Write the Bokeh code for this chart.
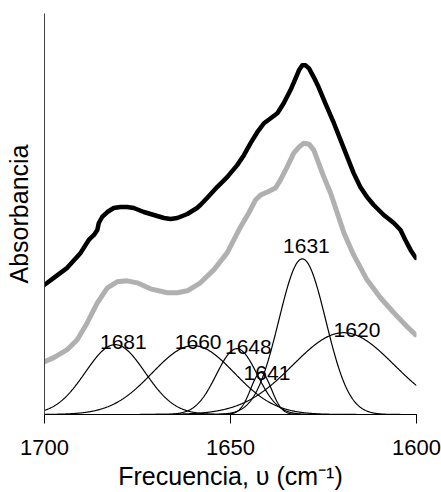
import numpy as np
from bokeh.plotting import figure
from bokeh.models import Range1d, FixedTicker
from bokeh.embed import file_html
from bokeh.resources import INLINE
from bokeh.core.properties import value

# ---- data (frequency in cm-1, absorbance in arbitrary units) ----
freq_measured = [1700.0, 1697.5, 1693.9, 1690.3, 1688.1, 1686.7, 1685.8, 1685.4, 1684.5,
                 1683.1, 1681.4, 1679.6, 1677.8, 1676.0, 1673.3, 1670.6, 1667.9, 1666.1,
                 1664.3, 1661.6, 1659.0, 1658.1, 1656.3, 1653.6, 1650.9, 1648.2, 1646.4,
                 1644.6, 1642.8, 1641.0, 1639.2, 1637.4, 1635.7, 1633.9, 1632.5, 1631.6,
                 1630.7, 1629.8, 1628.9, 1627.6, 1626.3, 1624.5, 1622.2, 1620.4, 1618.6,
                 1616.9, 1615.1, 1613.3, 1611.5, 1608.8, 1606.1, 1604.3, 1603.0, 1601.6,
                 1600.2]
abs_measured = [130, 137, 147, 162, 175, 180, 185, 192, 198,
                203, 207, 208, 208, 207, 203, 200, 197, 196,
                197, 201, 207, 210, 217, 228, 238, 250, 260,
                272, 283, 292, 297, 302, 312, 325, 337, 345,
                350, 350, 347, 338, 328, 312, 292, 275, 258,
                242, 228, 218, 210, 200, 192, 185, 175, 165,
                157]

freq_fit = [1700.0, 1697.5, 1693.9, 1691.2, 1688.5, 1685.8, 1683.1, 1680.5, 1677.8,
            1675.1, 1671.5, 1667.0, 1664.3, 1661.6, 1658.1, 1654.5, 1650.9, 1647.3,
            1645.1, 1643.3, 1641.9, 1640.1, 1637.9, 1636.6, 1634.8, 1633.0, 1631.6,
            1630.3, 1628.9, 1627.6, 1626.3, 1624.9, 1623.1, 1621.3, 1619.5, 1616.9,
            1613.3, 1609.7, 1606.1, 1602.5, 1600.3]
abs_fit = [53, 57, 65, 75, 92, 112, 127, 133, 134,
           132, 126, 122, 122, 124, 132, 145, 162, 188,
           202, 215, 220, 223, 227, 235, 248, 262, 268,
           272, 271, 265, 252, 238, 222, 202, 182, 160,
           135, 117, 102, 88, 80]

peak_names = ["1681", "1660", "1648", "1641", "1631", "1620"]
peak_centers = [1681.0, 1660.0, 1648.3, 1641.8, 1630.7, 1619.6]
peak_heights = [70, 69, 66, 42, 156, 82]
peak_sigmas = [8.0, 11.0, 5.5, 2.8, 6.3, 13.6]

label_x = [1678.8, 1658.7, 1645.2, 1640.2, 1629.6, 1616.0]
label_y = [73, 73, 68, 42, 169, 85]

x_ticks = [1700, 1650, 1600]
x_title = "Frecuencia, υ (cm⁻¹)"
y_title = "Absorbancia"

FONT = "Liberation Sans"

p = figure(width=441, height=492, output_backend="svg", toolbar_location=None,
           x_range=Range1d(1700, 1600), y_range=Range1d(0, 402),
           min_border_left=44, min_border_right=25, min_border_top=13, min_border_bottom=77)
p.outline_line_color = None
p.xgrid.visible = False
p.ygrid.visible = False
p.background_fill_color = "white"
p.border_fill_color = "white"

# Gaussian components
grid = np.linspace(1700, 1600, 801)
for c, h, s in zip(peak_centers, peak_heights, peak_sigmas):
    p.line(grid, h * np.exp(-((grid - c) ** 2) / (2 * s * s)), line_color="black", line_width=1.2)

# fitted sum (gray) and measured spectrum (black)
p.line(freq_fit, abs_fit, line_color="#b0b0b0", line_width=5, line_join="round", line_cap="round")
p.line(freq_measured, abs_measured, line_color="black", line_width=4.5, line_join="round", line_cap="round")

# peak labels
p.text(x=label_x, y=label_y, text=peak_names, text_align="center", text_baseline="alphabetic",
       text_font=value(FONT), text_font_size="21px", text_color="black")

# axes
xa = p.xaxis[0]
xa.ticker = FixedTicker(ticks=x_ticks, minor_ticks=[])
xa.major_tick_in = 0
xa.major_tick_out = 9
xa.major_tick_line_color = "black"
xa.axis_line_color = "black"
xa.major_label_text_font = FONT
xa.major_label_text_font_size = "22px"
xa.major_label_text_color = "black"
xa.major_label_standoff = 16
xa.axis_label = x_title
xa.axis_label_text_font = FONT
xa.axis_label_text_font_size = "25px"
xa.axis_label_text_font_style = "normal"
xa.axis_label_text_color = "black"
xa.axis_label_standoff = 4

ya = p.yaxis[0]
ya.ticker = FixedTicker(ticks=[], minor_ticks=[])
ya.major_tick_in = 0
ya.major_tick_out = 0
ya.minor_tick_in = 0
ya.minor_tick_out = 0
ya.axis_line_color = "#404040"
ya.axis_label = y_title
ya.axis_label_text_font = FONT
ya.axis_label_text_font_size = "25px"
ya.axis_label_text_font_style = "normal"
ya.axis_label_text_color = "black"
ya.axis_label_standoff = 12

open("out.html", "w").write(file_html(p, INLINE))
